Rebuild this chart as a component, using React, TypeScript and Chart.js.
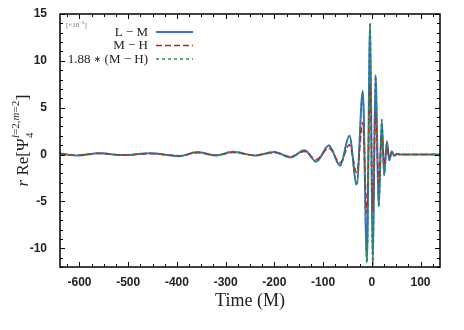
import React, { useEffect, useRef } from "react";
import { Chart, registerables } from "chart.js";

Chart.register(...registerables);

// ---- data ----
const times = [
  -640, -604, -560, -510, -455, -395, -358, -320, -285, -240, -200, -167, -138, -114, -88, -65, -46, -31,
  -18.5, -10, -3.5, 2, 7.6, 14.4, 20.5, 25.4, 31, 36, 41, 46, 52, 60, 140,
];
const lowMinusMed = [
  0.1, -0.1, 0.15, -0.06, 0.13, -0.17, 0.26, -0.1, 0.3, -0.1, 0.28, -0.3, 0.45, -0.75, 0.96, -1.17, 2.0, -3.2,
  6.8, -11.4, 14.0, -11.7, 8.5, -5.5, 3.7, -2.2, 1.4, -0.6, 0.35, -0.15, 0.08, 0, 0,
];
const medMinusHigh = [
  0.08, -0.08, 0.12, -0.05, 0.1, -0.12, 0.2, -0.07, 0.22, -0.07, 0.2, -0.22, 0.32, -0.52, 0.68, -0.88, 1.05, -1.9,
  3.4, -6.2, 7.5, -6.0, 4.5, -3.0, 2.0, -1.15, 0.75, -0.32, 0.18, -0.08, 0.04, 0, 0,
];
const scaledMedMinusHigh = [
  0.1, -0.1, 0.16, -0.07, 0.14, -0.18, 0.27, -0.1, 0.31, -0.1, 0.29, -0.32, 0.47, -0.78, 0.98, -1.2, 1.95, -3.3,
  6.6, -11.6, 14.1, -11.8, 8.4, -5.6, 3.75, -2.15, 1.4, -0.6, 0.34, -0.15, 0.08, 0, 0,
];
const seriesLabels = ["L \u2212 M", "M \u2212 H", "1.88 \u2217 (M \u2212 H)"];
const xTickValues = [-600, -500, -400, -300, -200, -100, 0, 100];
const yTickValues = [-10, -5, 0, 5, 10, 15];
const xLimits = [-640, 140];
const yLimits = [-12, 15];
const xMinorStep = 25;
const yMinorStep = 1;

const COLORS = ["rgb(60,110,220)", "rgb(200,30,30)", "rgb(40,140,70)"];
const DASHES: number[][] = [[], [6, 3], [3, 3]];
const WIDTHS = [2, 1.6, 1.5];

const toPoints = (ys: number[]) => times.map((t, i) => ({ x: t, y: ys[i] }));

const framePlugin = {
  id: "frame",
  afterDraw(chart: any) {
    const ctx: CanvasRenderingContext2D = chart.ctx;
    const { left, right, top, bottom } = chart.chartArea;
    const xs = chart.scales.x;
    const ys = chart.scales.y;
    ctx.save();
    ctx.strokeStyle = "#000";
    ctx.lineWidth = 1;
    const seg = (x1: number, y1: number, x2: number, y2: number) => {
      ctx.beginPath();
      ctx.moveTo(x1, y1);
      ctx.lineTo(x2, y2);
      ctx.stroke();
    };
    for (let v = Math.ceil(xLimits[0] / xMinorStep) * xMinorStep; v <= xLimits[1]; v += xMinorStep) {
      const px = Math.round(xs.getPixelForValue(v)) + 0.5;
      const len = v % 100 === 0 ? 5 : 3;
      seg(px, bottom, px, bottom - len);
      seg(px, top, px, top + len);
    }
    for (let v = yLimits[0]; v <= yLimits[1]; v += yMinorStep) {
      const py = Math.round(ys.getPixelForValue(v)) + 0.5;
      const len = v % 5 === 0 ? 5 : 3;
      seg(left, py, left + len, py);
      seg(right, py, right - len, py);
    }
    ctx.lineWidth = 1.5;
    ctx.strokeRect(left, top, right - left, bottom - top);

    // x title
    ctx.fillStyle = "#222";
    ctx.font = "18px 'Liberation Serif'";
    ctx.textAlign = "center";
    ctx.textBaseline = "alphabetic";
    ctx.fillText("Time (M)", (left + right) / 2, 305.5);

    // y title (rotated)
    ctx.save();
    ctx.translate(28, (top + bottom) / 2);
    ctx.rotate(-Math.PI / 2);
    ctx.textBaseline = "alphabetic";
    ctx.textAlign = "left";
    const big = "17px 'Liberation Serif'";
    const bigI = "italic 17px 'Liberation Serif'";
    const small = "11px 'Liberation Serif'";
    const smallI = "italic 11px 'Liberation Serif'";
    const parts: { t: string; f: string }[] = [
      { t: "r", f: bigI },
      { t: " Re[\u03A8", f: big },
    ];
    let w = 0;
    for (const p of parts) { ctx.font = p.f; w += ctx.measureText(p.t).width; }
    ctx.font = small; const subW = ctx.measureText("4").width;
    const supParts = [
      { t: "l", f: smallI }, { t: "=2,", f: small }, { t: "m", f: smallI }, { t: "=2", f: small },
    ];
    let supW = 0;
    for (const p of supParts) { ctx.font = p.f; supW += ctx.measureText(p.t).width; }
    ctx.font = big; const closeW = ctx.measureText("]").width;
    const total = w + Math.max(subW, supW) + 1 + closeW;
    let cx = -total / 2;
    for (const p of parts) { ctx.font = p.f; ctx.fillText(p.t, cx, 0); cx += ctx.measureText(p.t).width; }
    ctx.font = small; ctx.fillText("4", cx + 0.5, 5);
    let sx = cx + 0.5;
    for (const p of supParts) { ctx.font = p.f; ctx.fillText(p.t, sx, -9); sx += ctx.measureText(p.t).width; }
    cx += Math.max(subW, supW) + 1;
    ctx.font = big; ctx.fillText("]", cx, 0);
    ctx.restore();

    // scale note
    ctx.fillStyle = "#666";
    ctx.textAlign = "left";
    ctx.textBaseline = "alphabetic";
    ctx.font = "7px 'Liberation Serif'";
    const n1 = "[\u00D710";
    ctx.fillText(n1, 66, 27);
    let nx = 66 + ctx.measureText(n1).width;
    ctx.font = "5px 'Liberation Serif'";
    ctx.fillText("\u22122", nx, 24);
    nx += ctx.measureText("\u22122").width;
    ctx.font = "7px 'Liberation Serif'";
    ctx.fillText("]", nx, 27);

    // legend (label text right-aligned, sample line to its right)
    const rowsY = [32, 45.5, 59];
    const textRight = 148;
    for (let i = 0; i < 3; i++) {
      ctx.fillStyle = "#222";
      ctx.textBaseline = "middle";
      ctx.textAlign = "left";
      // split around the operator so the asterisk can be sized like a math operator
      const label = seriesLabels[i];
      const pieces = label.split("\u2217");
      const widths: number[] = [];
      const fonts: string[] = [];
      const texts: string[] = [];
      pieces.forEach((p, k) => {
        texts.push(p); fonts.push("13px 'Liberation Serif'");
        if (k < pieces.length - 1) { texts.push("\u2217"); fonts.push("9px 'DejaVu Sans'"); }
      });
      let tw = 0;
      texts.forEach((t, k) => { ctx.font = fonts[k]; const ww = ctx.measureText(t).width; widths.push(ww); tw += ww; });
      let tx = textRight - tw;
      texts.forEach((t, k) => { ctx.font = fonts[k]; ctx.fillText(t, tx, rowsY[i] + 0.5); tx += widths[k]; });
      ctx.strokeStyle = COLORS[i];
      ctx.lineWidth = WIDTHS[i];
      ctx.setLineDash(DASHES[i]);
      seg(156, rowsY[i], 193, rowsY[i]);
      ctx.setLineDash([]);
    }
    ctx.restore();
  },
};

export default function App() {
  const ref = useRef<HTMLCanvasElement | null>(null);
  useEffect(() => {
    if (!ref.current) return;
    const series = [lowMinusMed, medMinusHigh, scaledMedMinusHigh];
    const chart = new Chart(ref.current, {
      type: "line",
      data: {
        datasets: series.map((s, i) => ({
          label: seriesLabels[i],
          data: toPoints(s),
          borderColor: COLORS[i],
          borderWidth: WIDTHS[i],
          borderDash: DASHES[i],
          pointRadius: 0,
          fill: false,
          cubicInterpolationMode: "monotone" as const,
          order: 3 - i,
        })),
      },
      options: {
        animation: false,
        responsive: false,
        devicePixelRatio: 1,
        layout: { padding: { top: 14, right: 24, left: 0, bottom: 0 } },
        plugins: { legend: { display: false }, tooltip: { enabled: false } },
        scales: {
          x: {
            type: "linear",
            min: xLimits[0],
            max: xLimits[1],
            grid: { display: false },
            border: { display: false },
            afterBuildTicks: (s: any) => { s.ticks = xTickValues.map((v) => ({ value: v })); },
            afterFit: (s: any) => { s.height = 63; },
            ticks: {
              padding: 0,
              color: "#222",
              font: { family: "'Liberation Sans'", size: 12, weight: "bold" },
              maxRotation: 0,
              autoSkip: false,
            },
          },
          y: {
            type: "linear",
            min: yLimits[0],
            max: yLimits[1],
            grid: { display: false },
            border: { display: false },
            afterBuildTicks: (s: any) => { s.ticks = yTickValues.map((v) => ({ value: v })); },
            afterFit: (s: any) => { s.width = 60; },
            ticks: {
              padding: 5,
              color: "#222",
              font: { family: "'Liberation Sans'", size: 12, weight: "bold" },
              autoSkip: false,
            },
          },
        },
      },
      plugins: [framePlugin],
    });
    return () => chart.destroy();
  }, []);
  return (
    <div style={{ position: "absolute", left: 0, top: 0, width: 464, height: 330, background: "#fff" }}>
      <canvas ref={ref} width={464} height={330} style={{ display: "block" }} />
    </div>
  );
}
